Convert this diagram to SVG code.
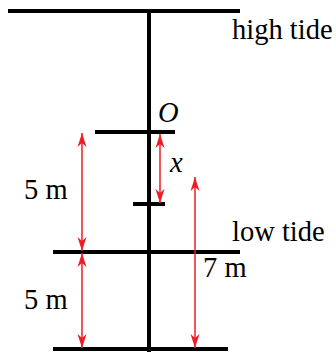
<svg xmlns="http://www.w3.org/2000/svg" width="336" height="352" viewBox="0 0 336 352">
<style>
.bar{stroke:#000;stroke-width:4;fill:none}
.dim{stroke:#ee1d23;stroke-width:1.5;fill:none;marker-start:url(#ah);marker-end:url(#ah)}
text{font-family:"Liberation Serif","Times New Roman",serif;font-size:28.5px;fill:#000}
.it{font-style:italic}
</style>
<defs>
<marker id="ah" viewBox="-14 -5 15 10" refX="0" refY="0" markerWidth="15" markerHeight="10" markerUnits="userSpaceOnUse" orient="auto-start-reverse">
<path d="M0,0 L-14,-4.5 L-10,0 L-14,4.5 Z" fill="#ee1d23"/>
</marker>
</defs>
<g id="pole">
<line class="bar" x1="149" y1="11" x2="149" y2="352"/>
</g>
<g id="high-tide">
<line class="bar" x1="8" y1="11" x2="240" y2="11"/>
<text x="232" y="39">high tide</text>
</g>
<g id="mark-O">
<line class="bar" x1="95" y1="132" x2="175" y2="132"/>
<text class="it" x="158" y="122" font-size="25">O</text>
</g>
<g id="mark-x">
<line class="bar" x1="133" y1="204" x2="165" y2="204"/>
</g>
<g id="low-tide">
<line class="bar" x1="53" y1="252" x2="240" y2="252"/>
<text x="232" y="241">low tide</text>
</g>
<g id="bottom">
<line class="bar" x1="53" y1="349" x2="228" y2="349"/>
</g>
<g id="connectors">
<line class="dim" x1="82" y1="133" x2="82" y2="251"/>
<line class="dim" x1="82" y1="253" x2="82" y2="348"/>
<line class="dim" x1="160" y1="134" x2="160" y2="203"/>
<line class="dim" x1="195" y1="177" x2="195" y2="348"/>
</g>
<g id="labels">
<text x="24" y="199">5 m</text>
<text x="24" y="309">5 m</text>
<text class="it" x="170" y="172">x</text>
<text x="203" y="277">7 m</text>
</g>
</svg>
